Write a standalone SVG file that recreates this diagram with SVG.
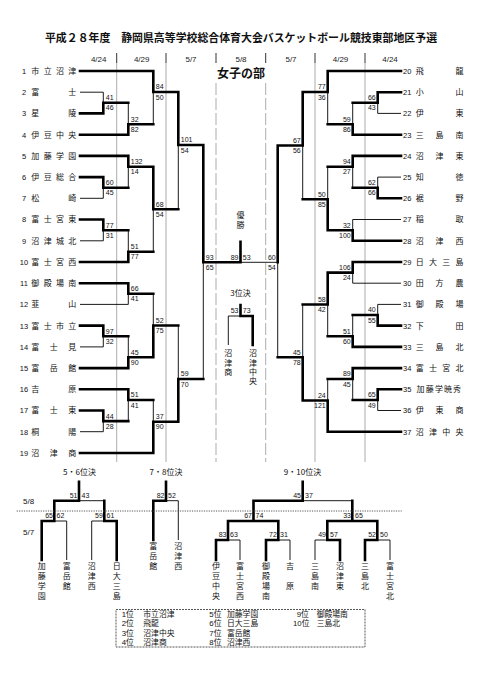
<svg xmlns="http://www.w3.org/2000/svg" width="481" height="680" viewBox="0 0 481 680">
<style>
.t{font-family:"Noto Sans CJK JP","Noto Sans",sans-serif;font-size:8px;fill:#111;text-anchor:middle}
.tl{font-family:"Liberation Sans","Noto Sans CJK JP",sans-serif;font-size:7.8px;fill:#111}
.n{font-family:"Liberation Sans",Arial,sans-serif;font-size:7.5px;fill:#111}
.s{font-family:"Liberation Sans",Arial,sans-serif;font-size:7px;fill:#111}
.se{font-family:"Liberation Sans",Arial,sans-serif;font-size:7px;fill:#111;text-anchor:end}
.d{font-family:"Liberation Sans",Arial,sans-serif;font-size:8px;fill:#222;text-anchor:middle}
.K{stroke:#000;stroke-width:2.6;fill:none;stroke-linecap:square}
.H{stroke:#000;stroke-width:0.9;fill:none}
.g{stroke:#888;stroke-width:0.7;fill:none}
.gd{stroke:#888;stroke-width:0.7;fill:none;stroke-dasharray:12 3}
.tick{stroke:#333;stroke-width:1;fill:none}
</style>
<rect width="481" height="680" fill="#fff"/>
<text x="241" y="42.4" style="font-family:'Noto Sans CJK JP',sans-serif;font-size:10.9px;font-weight:bold;fill:#111;text-anchor:middle">平成２８年度　静岡県高等学校総合体育大会バスケットボール競技東部地区予選</text>
<g id="dates">
<text class="d" x="98.7" y="61.5">4/24</text><text class="d" x="141.7" y="61.5">4/29</text><text class="d" x="191" y="61.5">5/7</text><text class="d" x="241" y="61.5">5/8</text><text class="d" x="291" y="61.5">5/7</text><text class="d" x="340.5" y="61.5">4/29</text><text class="d" x="390" y="61.5">4/24</text>
</g>
<g id="grid">
<path class="tick" d="M116.7 53V63M166 53V63M216 53V63M265.7 53V63M315 53V63M365 53V63"/>
<path class="g" d="M116.7 63V462M166 63V462M315 63V462M365 63V462"/>
<path class="gd" d="M216 83V462M265.7 83V462"/>
</g>
<text x="241" y="77.8" style="font-family:'Noto Sans CJK JP',sans-serif;font-size:12px;font-weight:bold;fill:#111;text-anchor:middle">女子の部</text>

<g id="connectors">
<path class="K" d="M80 71H153.3M80 113.4H103.3M80 134.7H128.3M80 155.9H128.3M80 177.1H103.3M80 219.5H103.3M80 262H128.3M80 283.2H128.3M80 325.6H103.3M80 368.1H128.3M80 389.3H128.3M80 410.5H103.3M80 453H153.3
M103.3 102.8V113.4M103.3 102.8H128.3M128.3 124.3V134.7M128.3 124.3H153.3M153.3 71V92M153.3 92H178.3
M103.3 177.1V187.7M103.3 187.7H128.3M128.3 155.9V166.7M128.3 166.7H153.3M103.3 219.5V230.2M103.3 230.2H128.3M128.3 251.7V262M128.3 251.7H153.3M153.3 166.7V209.2M153.3 209.2H178.3M178.3 92V145M178.3 145H203.3
M128.3 283.2V293.8M128.3 293.8H153.3M103.3 325.6V336.3M103.3 336.3H128.3M128.3 357.3V368.1M128.3 357.3H153.3M153.3 325.5V357.3M153.3 325.5H178.3
M103.3 410.5V421.1M103.3 421.1H128.3M128.3 389.3V400M128.3 400H153.3M153.3 421.7V453M153.3 421.7H178.3M178.3 379V421.7M178.3 379H203.3
M203.3 145V262.3M203.3 262.3H240.5M240.5 241.7V262.3"/>
<path class="H" d="M80 92.2H103.3M80 198.3H103.3M80 240.8H103.3M80 304.4H128.3M80 346.9H103.3M80 431.7H103.3
M103.3 92.2V102.8M128.3 102.8V124.3M153.3 92V124.3M103.3 187.7V198.3M128.3 166.7V187.7M103.3 230.2V240.8M128.3 230.2V251.7M153.3 209.2V251.7M178.3 145V209.2
M128.3 293.8V304.4M103.3 336.3V346.9M128.3 336.3V357.3M153.3 293.8V325.5M103.3 421.1V431.7M128.3 400V421.1M153.3 400V421.7M178.3 325.5V379M203.3 262.3V379M240.5 262.3H277.7"/>
<path class="K" d="M401 71H327.7M401 92.2H377.7M401 134.7H352.7M401 155.9H352.7M401 198.3H377.7M401 240.8H352.7M401 262H352.7M401 325.6H377.7M401 346.9H352.7M401 368.1H352.7M401 389.3H377.7M401 431.7H327.7
M377.7 92.2V102.8M377.7 102.8H352.7M352.7 124.3V134.7M352.7 124.3H327.7M327.7 71V92M327.7 92H302.7
M377.7 187.7V198.3M377.7 187.7H352.7M352.7 155.9V166.7M352.7 166.7H327.7M352.7 230.2V240.8M352.7 230.2H327.7M327.7 199.3V230.2M327.7 199.3H302.7M302.7 92V145.5M302.7 145.5H277.7
M352.7 262V272.6M352.7 272.6H327.7M377.7 315V325.6M377.7 315H352.7M352.7 336.3V346.9M352.7 336.3H327.7M327.7 272.6V304.5M327.7 304.5H302.7
M377.7 389.3V400M377.7 400H352.7M352.7 368.1V379M352.7 379H327.7M327.7 400.5V431.7M327.7 400.5H302.7M302.7 357.3V400.5M302.7 357.3H277.7M277.7 145.5V262.3"/>
<path class="H" d="M401 113.4H377.7M401 177.1H377.7M401 219.5H352.7M401 283.2H352.7M401 304.4H377.7M401 410.5H377.7
M377.7 102.8V113.4M352.7 102.8V124.3M327.7 92V124.3M377.7 177.1V187.7M352.7 166.7V187.7M352.7 219.5V230.2M327.7 166.7V199.3M302.7 145.5V199.3
M352.7 272.6V283.2M377.7 304.4V315M352.7 315V336.3M327.7 304.5V336.3M377.7 400V410.5M352.7 379V400M327.7 379V400.5M302.7 304.5V357.3M277.7 262.3V357.3"/>
<path class="K" d="M240.5 305V316M240.5 316H252.7M252.7 316V345"/>
<path class="H" d="M228.3 316H240.5M228.3 316V345"/>
<path class="K" d="M79 481.7V500.7M54.3 500.7H79M54.3 500.7V521M104.3 500.7V521M41.7 521H54.3M104.3 521H116.7M41.7 521V560M116.7 521V560
M166 481.7V500.7M153.3 500.7H166M153.3 500.7V540
M302.7 481.7V500.7M253.5 500.7H302.7M253.5 500.7V521M352.3 500.7V521M228 521H278.3M327.3 521H377.3M228 521V540M278.3 521V540M327.3 521V540M377.3 521V540M216 540H228M266 540H278.3M327.3 540H340M365 540H377.3M216 540V560M266 540V560M340 540V560M365 540V560"/>
<path class="H" d="M79 500.7H104.3M54.3 521H66.7M91.7 521H104.3M66.7 521V560M91.7 521V560M166 500.7H178.3M178.3 500.7V540
M302.7 500.7H352.3M228 540H240M278.3 540H290M315 540H327.3M377.3 540H390M240 540V560M290 540V560M315 540V560M390 540V560"/>
<path d="M16.7 511H401.7" style="stroke:#555;stroke-width:1;stroke-dasharray:1.2 1.2;fill:none"/>
</g>

<g id="scores">
<text class="s" x="105.8" y="100.2">41</text><text class="s" x="105.8" y="110.4">46</text>
<text class="s" x="130.8" y="121.7">32</text><text class="s" x="130.8" y="131.9">82</text>
<text class="s" x="155.8" y="89.4">84</text><text class="s" x="155.8" y="99.6">50</text>
<text class="s" x="105.8" y="185.1">60</text><text class="s" x="105.8" y="195.3">45</text>
<text class="s" x="130.8" y="164.1">132</text><text class="s" x="130.8" y="174.3">14</text>
<text class="s" x="105.8" y="227.6">77</text><text class="s" x="105.8" y="237.8">31</text>
<text class="s" x="130.8" y="249.1">51</text><text class="s" x="130.8" y="259.3">77</text>
<text class="s" x="155.8" y="206.6">68</text><text class="s" x="155.8" y="216.8">54</text>
<text class="s" x="180.8" y="142.4">101</text><text class="s" x="180.8" y="152.6">54</text>
<text class="s" x="130.8" y="291.2">66</text><text class="s" x="130.8" y="301.4">41</text>
<text class="s" x="105.8" y="333.7">97</text><text class="s" x="105.8" y="343.9">32</text>
<text class="s" x="130.8" y="354.7">45</text><text class="s" x="130.8" y="364.9">90</text>
<text class="s" x="155.8" y="322.9">52</text><text class="s" x="155.8" y="333.1">75</text>
<text class="s" x="105.8" y="418.5">44</text><text class="s" x="105.8" y="428.7">28</text>
<text class="s" x="130.8" y="397.4">51</text><text class="s" x="130.8" y="407.6">41</text>
<text class="s" x="155.8" y="419.1">37</text><text class="s" x="155.8" y="429.3">90</text>
<text class="s" x="180.8" y="376.4">59</text><text class="s" x="180.8" y="386.6">70</text>
<text class="s" x="205.8" y="259.7">93</text><text class="s" x="205.8" y="269.9">65</text>
<text class="se" x="238.5" y="259.7">89</text><text class="s" x="242.8" y="259.7">53</text>
<text class="se" x="275.7" y="259.7">60</text><text class="se" x="275.7" y="269.9">54</text>
<text class="se" x="375.7" y="100.2">66</text><text class="se" x="375.7" y="110.4">43</text>
<text class="se" x="350.7" y="121.7">59</text><text class="se" x="350.7" y="131.9">86</text>
<text class="se" x="325.7" y="89.4">77</text><text class="se" x="325.7" y="99.6">36</text>
<text class="se" x="375.7" y="185.1">62</text><text class="se" x="375.7" y="195.3">66</text>
<text class="se" x="350.7" y="164.1">94</text><text class="se" x="350.7" y="174.3">27</text>
<text class="se" x="350.7" y="227.6">32</text><text class="se" x="350.7" y="237.8">100</text>
<text class="se" x="325.7" y="196.7">50</text><text class="se" x="325.7" y="206.9">85</text>
<text class="se" x="300.7" y="142.9">67</text><text class="se" x="300.7" y="153.1">56</text>
<text class="se" x="350.7" y="270">106</text><text class="se" x="350.7" y="280.2">24</text>
<text class="se" x="375.7" y="312.4">40</text><text class="se" x="375.7" y="322.6">55</text>
<text class="se" x="350.7" y="333.7">51</text><text class="se" x="350.7" y="343.9">60</text>
<text class="se" x="325.7" y="301.9">58</text><text class="se" x="325.7" y="312.1">42</text>
<text class="se" x="375.7" y="397.4">65</text><text class="se" x="375.7" y="407.6">49</text>
<text class="se" x="350.7" y="376.4">89</text><text class="se" x="350.7" y="386.6">45</text>
<text class="se" x="325.7" y="397.9">24</text><text class="se" x="325.7" y="408.1">121</text>
<text class="se" x="300.7" y="354.7">45</text><text class="se" x="300.7" y="364.9">78</text>
<text class="se" x="238.5" y="313.4">53</text><text class="s" x="242.8" y="313.4">73</text>
<text class="se" x="77.5" y="498.1">51</text><text class="s" x="81.5" y="498.1">43</text>
<text class="se" x="53" y="518.4">65</text><text class="s" x="56.5" y="518.4">62</text>
<text class="se" x="102.8" y="518.4">59</text><text class="s" x="106.5" y="518.4">61</text>
<text class="se" x="164.5" y="498.1">82</text><text class="s" x="168" y="498.1">52</text>
<text class="se" x="301" y="498.1">45</text><text class="s" x="305" y="498.1">37</text>
<text class="se" x="252" y="518.4">67</text><text class="s" x="255.5" y="518.4">74</text>
<text class="se" x="351" y="518.4">33</text><text class="s" x="355" y="518.4">65</text>
<text class="se" x="226.5" y="537.4">83</text><text class="s" x="230" y="537.4">63</text>
<text class="se" x="276.8" y="537.4">72</text><text class="s" x="280" y="537.4">31</text>
<text class="se" x="326" y="537.4">49</text><text class="s" x="330" y="537.4">57</text>
<text class="se" x="376" y="537.4">52</text><text class="s" x="380" y="537.4">50</text>
</g>

<g id="L1"><text class="n" x="24" y="73.9" text-anchor="middle">1</text><text class="t" x="35.3 47.7 60 72.3" y="73.9">市立沼津</text></g>
<g id="L2"><text class="n" x="24" y="95.1" text-anchor="middle">2</text><text class="t" x="35.3 72.3" y="95.1">富士</text></g>
<g id="L3"><text class="n" x="24" y="116.3" text-anchor="middle">3</text><text class="t" x="35.3 72.3" y="116.3">星陵</text></g>
<g id="L4"><text class="n" x="24" y="137.6" text-anchor="middle">4</text><text class="t" x="35.3 47.7 60 72.3" y="137.6">伊豆中央</text></g>
<g id="L5"><text class="n" x="24" y="158.8" text-anchor="middle">5</text><text class="t" x="35.3 47.7 60 72.3" y="158.8">加藤学園</text></g>
<g id="L6"><text class="n" x="24" y="180" text-anchor="middle">6</text><text class="t" x="35.3 47.7 60 72.3" y="180">伊豆総合</text></g>
<g id="L7"><text class="n" x="24" y="201.2" text-anchor="middle">7</text><text class="t" x="35.3 72.3" y="201.2">松崎</text></g>
<g id="L8"><text class="n" x="24" y="222.4" text-anchor="middle">8</text><text class="t" x="35.3 47.7 60 72.3" y="222.4">富士宮東</text></g>
<g id="L9"><text class="n" x="24" y="243.7" text-anchor="middle">9</text><text class="t" x="35.3 47.7 60 72.3" y="243.7">沼津城北</text></g>
<g id="L10"><text class="n" x="24" y="264.9" text-anchor="middle">10</text><text class="t" x="35.3 47.7 60 72.3" y="264.9">富士宮西</text></g>
<g id="L11"><text class="n" x="24" y="286.1" text-anchor="middle">11</text><text class="t" x="35.3 47.7 60 72.3" y="286.1">御殿場南</text></g>
<g id="L12"><text class="n" x="24" y="307.3" text-anchor="middle">12</text><text class="t" x="35.3 72.3" y="307.3">韮山</text></g>
<g id="L13"><text class="n" x="24" y="328.5" text-anchor="middle">13</text><text class="t" x="35.3 47.7 60 72.3" y="328.5">富士市立</text></g>
<g id="L14"><text class="n" x="24" y="349.8" text-anchor="middle">14</text><text class="t" x="35.3 53.8 72.3" y="349.8">富士見</text></g>
<g id="L15"><text class="n" x="24" y="371" text-anchor="middle">15</text><text class="t" x="35.3 53.8 72.3" y="371">富岳館</text></g>
<g id="L16"><text class="n" x="24" y="392.2" text-anchor="middle">16</text><text class="t" x="35.3 72.3" y="392.2">吉原</text></g>
<g id="L17"><text class="n" x="24" y="413.4" text-anchor="middle">17</text><text class="t" x="35.3 53.8 72.3" y="413.4">富士東</text></g>
<g id="L18"><text class="n" x="24" y="434.6" text-anchor="middle">18</text><text class="t" x="35.3 72.3" y="434.6">桐陽</text></g>
<g id="L19"><text class="n" x="24" y="455.9" text-anchor="middle">19</text><text class="t" x="35.3 53.8 72.3" y="455.9">沼津商</text></g>

<g id="R20"><text class="n" x="403" y="73.9">20</text><text class="t" x="419.7 459.6" y="73.9">飛龍</text></g>
<g id="R21"><text class="n" x="403" y="95.1">21</text><text class="t" x="419.7 459.6" y="95.1">小山</text></g>
<g id="R22"><text class="n" x="403" y="116.3">22</text><text class="t" x="419.7 459.6" y="116.3">伊東</text></g>
<g id="R23"><text class="n" x="403" y="137.6">23</text><text class="t" x="419.7 439.6 459.6" y="137.6">三島南</text></g>
<g id="R24"><text class="n" x="403" y="158.8">24</text><text class="t" x="419.7 439.6 459.6" y="158.8">沼津東</text></g>
<g id="R25"><text class="n" x="403" y="180">25</text><text class="t" x="419.7 459.6" y="180">知徳</text></g>
<g id="R26"><text class="n" x="403" y="201.2">26</text><text class="t" x="419.7 459.6" y="201.2">裾野</text></g>
<g id="R27"><text class="n" x="403" y="222.4">27</text><text class="t" x="419.7 459.6" y="222.4">稲取</text></g>
<g id="R28"><text class="n" x="403" y="243.7">28</text><text class="t" x="419.7 439.6 459.6" y="243.7">沼津西</text></g>
<g id="R29"><text class="n" x="403" y="264.9">29</text><text class="t" x="419.7 433 446.3 459.6" y="264.9">日大三島</text></g>
<g id="R30"><text class="n" x="403" y="286.1">30</text><text class="t" x="419.7 439.6 459.6" y="286.1">田方農</text></g>
<g id="R31"><text class="n" x="403" y="307.3">31</text><text class="t" x="419.7 439.6 459.6" y="307.3">御殿場</text></g>
<g id="R32"><text class="n" x="403" y="328.5">32</text><text class="t" x="419.7 459.6" y="328.5">下田</text></g>
<g id="R33"><text class="n" x="403" y="349.8">33</text><text class="t" x="419.7 439.6 459.6" y="349.8">三島北</text></g>
<g id="R34"><text class="n" x="403" y="371">34</text><text class="t" x="419.7 433 446.3 459.6" y="371">富士宮北</text></g>
<g id="R35"><text class="n" x="403" y="392.2">35</text><text class="t" x="420.6 429.7 438.9 448 457.1" y="392.2">加藤学暁秀</text></g>
<g id="R36"><text class="n" x="403" y="413.4">36</text><text class="t" x="419.7 439.6 459.6" y="413.4">伊東商</text></g>
<g id="R37"><text class="n" x="403" y="434.6">37</text><text class="t" x="419.7 433 446.3 459.6" y="434.6">沼津中央</text></g>

<g id="champion"><text class="t" x="240.5 240.5" y="218 228">優勝</text></g>
<g id="third"><text class="t" x="240.5" y="296">3位決</text>
<text class="t" x="228.3 228.3 228.3" y="356.3 365.6 374.9">沼津商</text>
<text class="t" x="253 253 253 253" y="356.3 365.6 374.9 384.2">沼津中央</text></g>

<g id="p56"><text class="t" x="79.5" y="474.5">5・6位決</text>
<text class="t" x="41.7 41.7 41.7 41.7" y="569 579 589 599">加藤学園</text>
<text class="t" x="66.7 66.7 66.7" y="569 579 589">富岳館</text>
<text class="t" x="91.7 91.7 91.7" y="569 579 589">沼津西</text>
<text class="t" x="116.7 116.7 116.7 116.7" y="569 579 589 599">日大三島</text></g>
<g id="p78"><text class="t" x="166" y="474.5">7・8位決</text>
<text class="t" x="153.3 153.3 153.3" y="549 559 569">富岳館</text>
<text class="t" x="178.3 178.3 178.3" y="549 559 569">沼津西</text></g>
<g id="p910"><text class="t" x="302.5" y="474.5">9・10位決</text>
<text class="t" x="216 216 216 216" y="569 579 589 599">伊豆中央</text>
<text class="t" x="240 240 240 240" y="569 579 589 599">富士宮西</text>
<text class="t" x="266 266 266 266" y="569 579 589 599">御殿場南</text>
<text class="t" x="290 290" y="569 589">吉原</text>
<text class="t" x="315 315 315" y="569 579 589">三島南</text>
<text class="t" x="340 340 340" y="569 579 589">沼津東</text>
<text class="t" x="365 365 365" y="569 579 589">三島北</text>
<text class="t" x="390 390 390 390" y="569 579 589 599">富士宮北</text></g>
<g id="bdates"><text class="n" x="23" y="503.5" style="font-size:8px">5/8</text><text class="n" x="23" y="534.5" style="font-size:8px">5/7</text></g>

<g id="legend">
<rect x="116" y="609.5" width="249" height="37.5" style="fill:none;stroke:#444;stroke-width:0.9;stroke-dasharray:2 1"/>
<text class="tl"><tspan x="121.7" y="617">1位</tspan><tspan x="143.3" y="617">市立沼津</tspan><tspan x="121.7" y="626.4">2位</tspan><tspan x="143.3" y="626.4">飛龍</tspan><tspan x="121.7" y="635.8">3位</tspan><tspan x="143.3" y="635.8">沼津中央</tspan><tspan x="121.7" y="645.2">4位</tspan><tspan x="143.3" y="645.2">沼津商</tspan></text>
<text class="tl"><tspan x="209.3" y="617">5位</tspan><tspan x="227" y="617">加藤学園</tspan><tspan x="209.3" y="626.4">6位</tspan><tspan x="227" y="626.4">日大三島</tspan><tspan x="209.3" y="635.8">7位</tspan><tspan x="227" y="635.8">富岳館</tspan><tspan x="209.3" y="645.2">8位</tspan><tspan x="227" y="645.2">沼津西</tspan></text>
<text class="tl"><tspan x="296.7" y="617">9位</tspan><tspan x="316.7" y="617">御殿場南</tspan><tspan x="293" y="626.4">10位</tspan><tspan x="316.7" y="626.4">三島北</tspan></text>
</g>
</svg>
